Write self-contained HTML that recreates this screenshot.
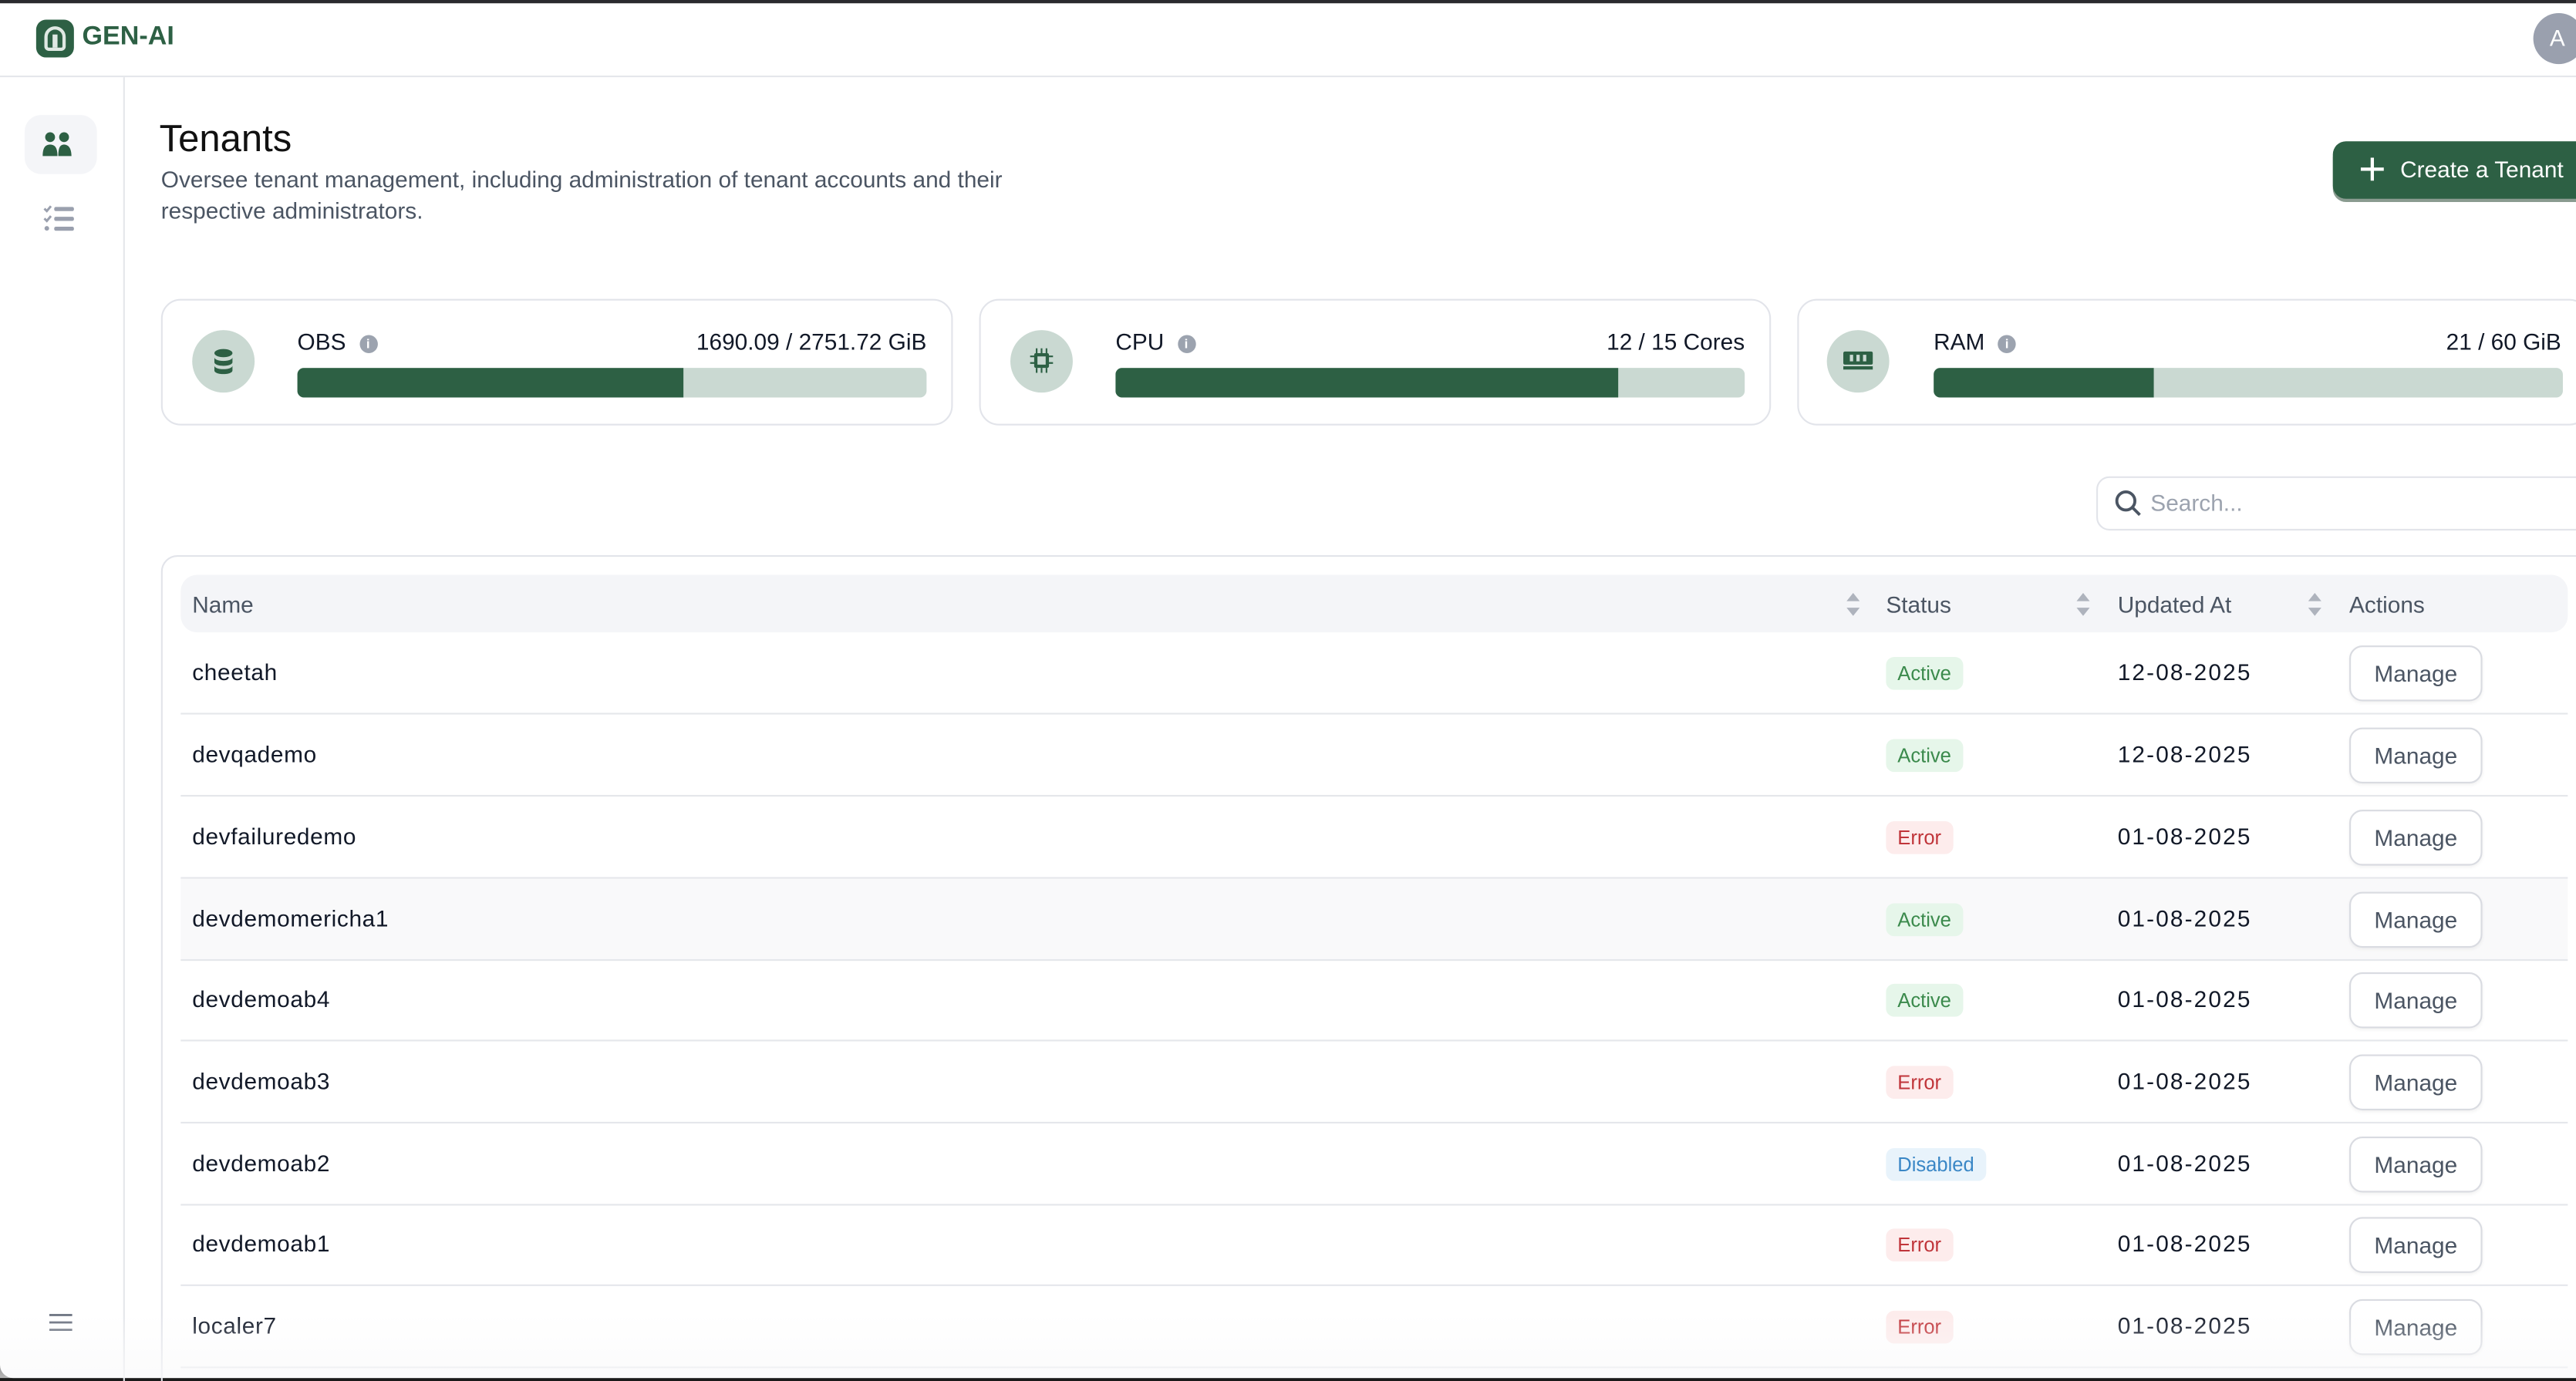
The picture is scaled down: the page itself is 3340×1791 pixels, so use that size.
<!DOCTYPE html>
<html><head><meta charset="utf-8">
<style>
*{box-sizing:border-box;margin:0;padding:0}
html,body{width:3340px;height:1790px;overflow:hidden;background:#1a1a1a}
#w{position:absolute;left:0;top:0;width:1568px;height:841px;transform:scale(2.13010);transform-origin:0 0;font-family:"Liberation Sans",sans-serif;color:#111827;background:#1a1a1a;overflow:hidden}
.a{position:absolute}
.page{left:0;top:0;width:1600px;height:839px;background:#fff;border-radius:0 0 0 8px}
.topbar{left:0;top:0;width:1568px;height:2px;background:#2b2b2e}
.hdr{left:0;top:46px;width:1568px;height:1px;background:#e5e7eb}
.side{left:75px;top:47px;width:1px;height:800px;background:#e5e7eb}
.card{border:1px solid #e2e4ea;border-radius:12px;background:#fff}
.ic{width:38px;height:38px;border-radius:50%;background:#cad9d2}
.bar{height:18px;border-radius:4px;background:#cad9d2;overflow:hidden}
.bar i{display:block;height:100%;background:#2d6044}
.lbl{font-size:14px;color:#111827}
.info{display:inline-block;width:11px;height:11px;border-radius:50%;background:#9ca3af;color:#fff;font-size:8px;text-align:center;line-height:11px;font-weight:bold;vertical-align:1px;margin-left:8px}
.th{font-size:14px;color:#4b5563}
.sort{width:8px;height:14px}
.row{left:110px;width:1453px;height:50px;border-bottom:1px solid #e5e7eb}
.nm{position:absolute;left:7px;top:16px;font-size:14px;color:#111827;letter-spacing:.3px}
.bd{position:absolute;left:1038px;top:15px;height:20px;padding:0 7px;border-radius:5px;font-size:12px;line-height:20px}
.ac{background:#e6f6ea;color:#3b8a4c}.er{background:#fdecec;color:#c0353a}.ds{background:#e8f3fb;color:#3a87c6}
.dt{position:absolute;left:1179px;top:16px;font-size:14px;letter-spacing:1px;color:#111827}
.mg{position:absolute;left:1320px;top:8px;width:81px;height:34px;border:1px solid #d9dbe1;border-radius:8px;font-size:14px;color:#4b5563;text-align:center;line-height:32px;background:#fff;box-shadow:0 1px 2px rgba(0,0,0,.05)}
</style></head><body><div id="w">
<div class="a page"></div>
<div class="a topbar"></div>
<div class="a" style="left:22px;top:12px;width:23px;height:23px;border-radius:6px;background:#2d6044"></div>
<div class="a" style="left:27px;top:16px;width:13px;height:15px;border:2.5px solid #dfe9e3;border-radius:7px 7px 3px 3px"></div>
<div class="a" style="left:32px;top:21px;width:3px;height:8px;background:#dfe9e3"></div>
<div class="a" style="left:50px;top:14px;font-size:16px;font-weight:bold;color:#2d6044">GEN-AI</div>
<div class="a" style="left:1542px;top:8px;width:31px;height:31px;border-radius:50%;background:#9aa0ae;color:#fff;font-size:14px;line-height:31px;text-indent:10px">A</div>
<div class="a hdr"></div>
<div class="a side"></div>
<div class="a" style="left:15px;top:70px;width:44px;height:36px;border-radius:10px;background:#f4f5f8"></div>
<svg class="a" style="left:25px;top:80px" width="20" height="16" viewBox="0 0 20 16"><circle cx="5.5" cy="3.5" r="3" fill="#2d6044"/><circle cx="14" cy="3.5" r="3" fill="#2d6044"/><path d="M1 15c0-5 1.5-7 4.5-7s4.5 2 4.5 7z M10.5 15c0-5 1-7 3.5-7s4.5 2 4.5 7z" fill="#2d6044"/></svg>
<svg class="a" style="left:26px;top:124px" width="20" height="18" viewBox="0 0 20 18"><path d="M1 3l1.5 1.5L5 1.5M1 9l1.5 1.5L5 7.5" stroke="#9aa0ae" stroke-width="1.4" fill="none"/><circle cx="2.5" cy="15" r="1.4" fill="#9aa0ae"/><rect x="7" y="2" width="12" height="2.5" rx="1" fill="#9aa0ae"/><rect x="7" y="8" width="12" height="2.5" rx="1" fill="#9aa0ae"/><rect x="7" y="14" width="12" height="2.5" rx="1" fill="#9aa0ae"/></svg>
<svg class="a" style="left:30px;top:799px" width="14" height="12" viewBox="0 0 14 12"><rect y="1" width="14" height="1.3" fill="#6b7280"/><rect y="5.5" width="14" height="1.3" fill="#6b7280"/><rect y="10" width="14" height="1.3" fill="#6b7280"/></svg>

<div class="a" style="left:97px;top:71px;font-size:23px;color:#111">Tenants</div>
<div class="a" style="left:98px;top:100px;font-size:14px;line-height:19px;color:#4b5563;width:540px">Oversee tenant management, including administration of tenant accounts and their respective administrators.</div>
<div class="a" style="left:1420px;top:86px;width:160px;height:35px;border-radius:8px;background:#2d6044;box-shadow:0 2px 0 #8a9b90;color:#fff;font-size:14px;line-height:34px;padding-left:41px">Create a Tenant</div>
<div class="a" style="left:1437px;top:102px;width:14px;height:2px;background:#fff"></div>
<div class="a" style="left:1443px;top:96px;width:2px;height:14px;background:#fff"></div>

<div class="a card" style="left:98px;top:182px;width:482px;height:77px"></div>
<div class="a card" style="left:596px;top:182px;width:482px;height:77px"></div>
<div class="a card" style="left:1094px;top:182px;width:482px;height:77px"></div>
<div class="a ic" style="left:117px;top:201px"></div>
<div class="a ic" style="left:615px;top:201px"></div>
<div class="a ic" style="left:1112px;top:201px"></div>
<svg class="a" style="left:130px;top:212px" width="12" height="17" viewBox="0 0 12 17"><ellipse cx="6" cy="3" rx="5.5" ry="2.5" fill="#2d6044"/><path d="M.5 5.5c0 3 11 3 11 0v3c0 3-11 3-11 0z M.5 10.5c0 3 11 3 11 0v3c0 3-11 3-11 0z" fill="#2d6044"/></svg>
<svg class="a" style="left:627px;top:212px" width="14" height="15" viewBox="0 0 14 15"><rect x="2.5" y="3" width="9" height="9" rx="1" fill="#2d6044"/><rect x="4.5" y="5" width="5" height="5" fill="#cad9d2"/><path d="M4 0v3M7 0v3M10 0v3M4 12v3M7 12v3M10 12v3M0 5h3M0 9h3M11 5h3M11 9h3" stroke="#2d6044" stroke-width="1"/></svg>
<svg class="a" style="left:1122px;top:213px" width="18" height="14" viewBox="0 0 18 14"><rect x="0" y="1" width="18" height="8" rx="1" fill="#2d6044"/><rect x="4" y="3" width="2" height="4" fill="#cad9d2"/><rect x="8" y="3" width="2" height="4" fill="#cad9d2"/><rect x="12" y="3" width="2" height="4" fill="#cad9d2"/><rect x="0" y="10" width="18" height="2" fill="#2d6044"/></svg>

<div class="a lbl" style="left:181px;top:200px">OBS<span class="info">i</span></div>
<div class="a lbl" style="left:300px;top:200px;width:264px;text-align:right">1690.09 / 2751.72 GiB</div>
<div class="a bar" style="left:181px;top:224px;width:383px"><i style="width:235px"></i></div>
<div class="a lbl" style="left:679px;top:200px">CPU<span class="info">i</span></div>
<div class="a lbl" style="left:800px;top:200px;width:262px;text-align:right">12 / 15 Cores</div>
<div class="a bar" style="left:679px;top:224px;width:383px"><i style="width:306px"></i></div>
<div class="a lbl" style="left:1177px;top:200px">RAM<span class="info">i</span></div>
<div class="a lbl" style="left:1300px;top:200px;width:259px;text-align:right">21 / 60 GiB</div>
<div class="a bar" style="left:1177px;top:224px;width:383px"><i style="width:134px"></i></div>

<div class="a" style="left:1276px;top:290px;width:320px;height:33px;border:1px solid #e2e4ea;border-radius:8px"></div>
<svg class="a" style="left:1287px;top:298px" width="17" height="17" viewBox="0 0 17 17"><circle cx="7" cy="7" r="5.5" stroke="#4b5563" stroke-width="1.8" fill="none"/><path d="M11 11l4.5 4.5" stroke="#4b5563" stroke-width="1.8"/></svg>
<div class="a" style="left:1309px;top:298px;font-size:14px;color:#9ca3af">Search...</div>

<div class="a" style="left:98px;top:338px;width:1500px;height:520px;border:1px solid #e2e4ea;border-radius:10px"></div>
<div class="a" style="left:110px;top:350px;width:1453px;height:35px;border-radius:10px;background:#f4f5f8"></div>
<div class="a th" style="left:117px;top:360px">Name</div>
<div class="a th" style="left:1148px;top:360px">Status</div>
<div class="a th" style="left:1289px;top:360px">Updated At</div>
<div class="a th" style="left:1430px;top:360px">Actions</div>
<svg class="a sort" style="left:1124px;top:361px" viewBox="0 0 8 14"><path d="M4 0L8 5H0zM4 14L8 9H0z" fill="#aeb3bd"/></svg>
<svg class="a sort" style="left:1264px;top:361px" viewBox="0 0 8 14"><path d="M4 0L8 5H0zM4 14L8 9H0z" fill="#aeb3bd"/></svg>
<svg class="a sort" style="left:1405px;top:361px" viewBox="0 0 8 14"><path d="M4 0L8 5H0zM4 14L8 9H0z" fill="#aeb3bd"/></svg>

<div class="a row" style="top:385px"><span class="nm">cheetah</span><span class="bd ac">Active</span><span class="dt">12-08-2025</span><span class="mg">Manage</span></div>
<div class="a row" style="top:435px"><span class="nm">devqademo</span><span class="bd ac">Active</span><span class="dt">12-08-2025</span><span class="mg">Manage</span></div>
<div class="a row" style="top:485px"><span class="nm">devfailuredemo</span><span class="bd er">Error</span><span class="dt">01-08-2025</span><span class="mg">Manage</span></div>
<div class="a row" style="top:535px;background:#f9f9fa"><span class="nm">devdemomericha1</span><span class="bd ac">Active</span><span class="dt">01-08-2025</span><span class="mg">Manage</span></div>
<div class="a row" style="top:584px"><span class="nm">devdemoab4</span><span class="bd ac">Active</span><span class="dt">01-08-2025</span><span class="mg">Manage</span></div>
<div class="a row" style="top:634px"><span class="nm">devdemoab3</span><span class="bd er">Error</span><span class="dt">01-08-2025</span><span class="mg">Manage</span></div>
<div class="a row" style="top:684px"><span class="nm">devdemoab2</span><span class="bd ds">Disabled</span><span class="dt">01-08-2025</span><span class="mg">Manage</span></div>
<div class="a row" style="top:733px"><span class="nm">devdemoab1</span><span class="bd er">Error</span><span class="dt">01-08-2025</span><span class="mg">Manage</span></div>
<div class="a row" style="top:783px"><span class="nm">localer7</span><span class="bd er">Error</span><span class="dt">01-08-2025</span><span class="mg">Manage</span></div>
<div class="a" style="left:0;top:800px;width:1568px;height:39px;background:linear-gradient(rgba(249,249,250,0),rgba(249,249,250,.7));pointer-events:none"></div>
</div></body></html>
